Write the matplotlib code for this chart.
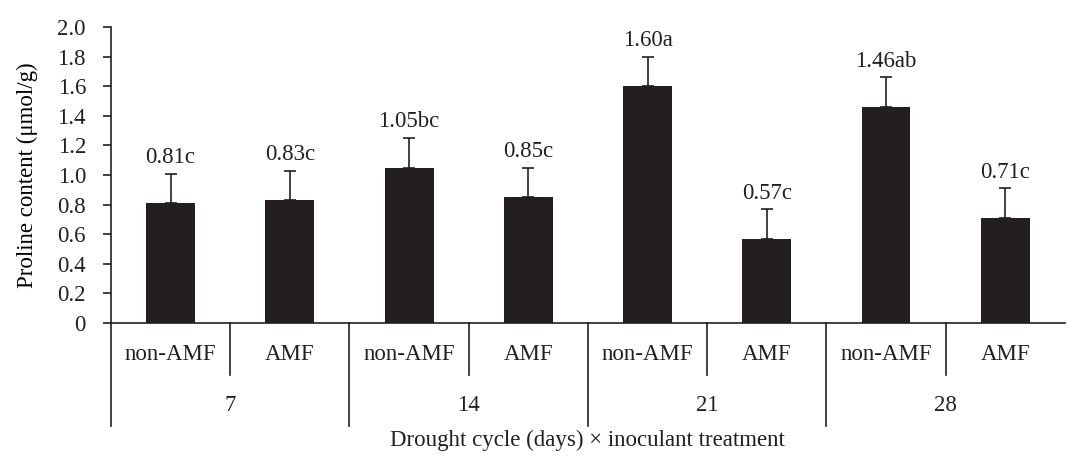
import matplotlib.pyplot as plt
import matplotlib.transforms as mtransforms
import numpy as np

treatments = ["non-AMF", "AMF"] * 4
cycles = ["7", "14", "21", "28"]
proline = [0.81, 0.83, 1.05, 0.85, 1.60, 0.57, 1.46, 0.71]
errors = [0.20, 0.20, 0.20, 0.20, 0.20, 0.20, 0.20, 0.20]
letters = ["c", "c", "bc", "c", "a", "c", "ab", "c"]
yticks = [0, 0.2, 0.4, 0.6, 0.8, 1.0, 1.2, 1.4, 1.6, 1.8, 2.0]

INK = "#231f20"
FS = 16.5

plt.rcParams.update({
    "font.family": ["Liberation Serif", "DejaVu Serif"],
    "font.size": FS,
    "text.color": INK,
    "axes.edgecolor": INK,
    "xtick.color": INK,
    "ytick.color": INK,
})

fig = plt.figure(figsize=(10.67, 4.57), dpi=100)
ax = fig.add_axes([0.104, 0.293, 0.894, 0.648])

x = np.arange(len(proline))
ax.bar(x, proline, width=0.41, color=INK, zorder=2)
ax.errorbar(x, proline, yerr=[np.zeros(len(errors)), errors], fmt="none",
            ecolor=INK, elinewidth=1.2, capsize=4, capthick=1.2, zorder=3)
for xi, v, e, l in zip(x, proline, errors, letters):
    ax.annotate(f"{v:.2f}{l}", (xi, v + e), xytext=(0, 4),
                textcoords="offset points", ha="center", va="bottom", fontsize=FS)

ax.set_xlim(-0.5, len(proline) - 0.5)
ax.set_ylim(0, 2.0)
ax.set_yticks(yticks)
ax.set_yticklabels(["0" if t == 0 else f"{t:.1f}" for t in yticks])
ax.tick_params(axis="y", direction="out", length=6, width=1.2, labelsize=FS, pad=12)
ax.set_xticks([])
for s in ("top", "right"):
    ax.spines[s].set_visible(False)
ax.spines["left"].set_linewidth(1.2)
ax.spines["bottom"].set_linewidth(1.2)
ax.set_ylabel("Proline content (μmol/g)", fontsize=FS, labelpad=14)

# hierarchical category axis
trans = mtransforms.blended_transform_factory(ax.transData, ax.transAxes)
short = -52 / 296
long_ = -103 / 296
for i, name in enumerate(treatments):
    ax.text(i, -31 / 296, name, transform=trans, ha="center", va="center", fontsize=FS)
for i in range(1, len(treatments)):
    y_end = long_ if i % 2 == 0 else short
    ax.plot([i - 0.5, i - 0.5], [0, y_end], transform=trans, color=INK,
            lw=1.2, clip_on=False)
ax.plot([-0.5, -0.5], [0, long_], transform=trans, color=INK, lw=1.2, clip_on=False)
for j, c in enumerate(cycles):
    ax.text(2 * j + 0.5, -82 / 296, c, transform=trans, ha="center", va="center",
            fontsize=FS)
ax.text(3.5, -117 / 296, "Drought cycle (days) × inoculant treatment",
        transform=trans, ha="center", va="center", fontsize=FS)

fig.savefig("out.png", dpi=100)
